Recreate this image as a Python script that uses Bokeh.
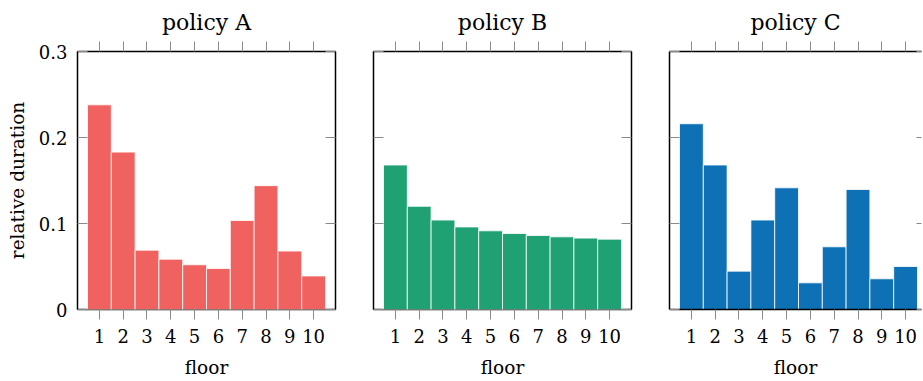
from bokeh.plotting import figure
from bokeh.layouts import row
from bokeh.models import FixedTicker, LinearAxis, CustomJSTickFormatter, Range1d
from bokeh.embed import file_html
from bokeh.resources import INLINE

# ---- data ----
floors = [1, 2, 3, 4, 5, 6, 7, 8, 9, 10]
floor_labels = ["1", "2", "3", "4", "5", "6", "7", "8", "9", "10"]
policy_a = [0.238, 0.183, 0.069, 0.0585, 0.052, 0.0477, 0.1035, 0.144, 0.068, 0.039]
policy_b = [0.168, 0.120, 0.104, 0.096, 0.0915, 0.0884, 0.086, 0.0845, 0.083, 0.0818]
policy_c = [0.216, 0.168, 0.0446, 0.104, 0.1415, 0.031, 0.0729, 0.1395, 0.0357, 0.050]
titles = ["policy A", "policy B", "policy C"]
colors = ["#F06260", "#1FA174", "#0E71B5"]
y_ticks = [0, 0.1, 0.2, 0.3]
y_tick_labels = ["0", "0.1", "0.2", "0.3"]
x_label = "floor"
y_label = "relative duration"

FONT = "DejaVu Serif"
TICK_COLOR = "#8a8a8a"

series = [policy_a, policy_b, policy_c]

X0, X1 = 0.08, 10.92
FRAME_W = 258


def blank():
    return CustomJSTickFormatter(code="return ''")


def label_fmt(tvals, tlabels):
    return CustomJSTickFormatter(
        args=dict(tvals=tvals, tlabels=tlabels),
        code="""
for (let i = 0; i < tvals.length; i++) {
  if (Math.abs(tvals[i] - tick) < 1e-9) { return tlabels[i]; }
}
return '';
""")


def style_axis(ax, kind, labels_on, frame_line):
    if frame_line:
        ax.axis_line_color = "black"
        ax.axis_line_width = 1.5
    else:
        ax.axis_line_color = None
    ax.major_tick_line_color = TICK_COLOR
    ax.major_tick_line_width = 1
    ax.minor_tick_line_color = None
    ax.major_label_text_font = FONT
    ax.major_label_text_font_size = "18px"
    ax.major_label_text_color = "black"
    ax.axis_label_text_font = FONT
    ax.axis_label_text_font_style = "normal"
    ax.axis_label_text_font_size = "18.5px"
    ax.axis_label_text_color = "black"
    if kind == "x":
        ax.ticker = FixedTicker(ticks=floors)
        ax.major_tick_in = 0
        ax.major_tick_out = 10
        ax.major_label_standoff = 9
        ax.formatter = label_fmt(floors, floor_labels) if labels_on else blank()
    else:
        ax.ticker = FixedTicker(ticks=y_ticks)
        ax.major_tick_in = 10
        ax.major_tick_out = 0
        ax.major_label_standoff = 10
        ax.formatter = label_fmt(y_ticks, y_tick_labels) if labels_on else blank()
    if not labels_on:
        ax.major_label_standoff = 0


panels = []
for i in range(3):
    left = 77 if i == 0 else 19
    right = 19 if i < 2 else 1
    fw = FRAME_W if i < 2 else 252
    x_end = X0 + (X1 - X0) * fw / FRAME_W
    last = (i == 2)
    p = figure(width=left + fw + right, height=381,
               x_range=Range1d(X0, x_end), y_range=Range1d(0, 0.3),
               output_backend="svg", toolbar_location=None,
               min_border_left=left, min_border_right=right,
               min_border_top=51, min_border_bottom=72,
               title=titles[i])
    p.title.align = "center"
    p.title.text_font = FONT
    p.title.text_font_style = "normal"
    p.title.text_font_size = "22px"
    p.title.text_color = "black"
    p.title.standoff = 14
    for g in p.grid:
        g.visible = False
    if last:
        p.outline_line_color = None
    else:
        p.outline_line_color = "black"
        p.outline_line_width = 1.5
    p.background_fill_color = "white"
    p.border_fill_color = "white"

    p.vbar(x=floors, top=series[i], bottom=0, width=1.0,
           fill_color=colors[i], line_color="white", line_width=1, line_alpha=0.8)

    xb = p.xaxis[0]
    style_axis(xb, "x", True, last)
    xb.axis_label = x_label
    xb.axis_label_standoff = 11

    yl = p.yaxis[0]
    style_axis(yl, "y", i == 0, last)
    if i == 0:
        yl.axis_label = y_label
        yl.axis_label_standoff = 8

    xt = LinearAxis()
    style_axis(xt, "x", False, last)
    p.add_layout(xt, "above")

    yr = LinearAxis()
    style_axis(yr, "y", False, False)
    if last:
        yr.major_tick_in = 5
    p.add_layout(yr, "right")

    panels.append(p)

layout = row(*panels, spacing=0)
open("out.html", "w").write(file_html(layout, INLINE))
